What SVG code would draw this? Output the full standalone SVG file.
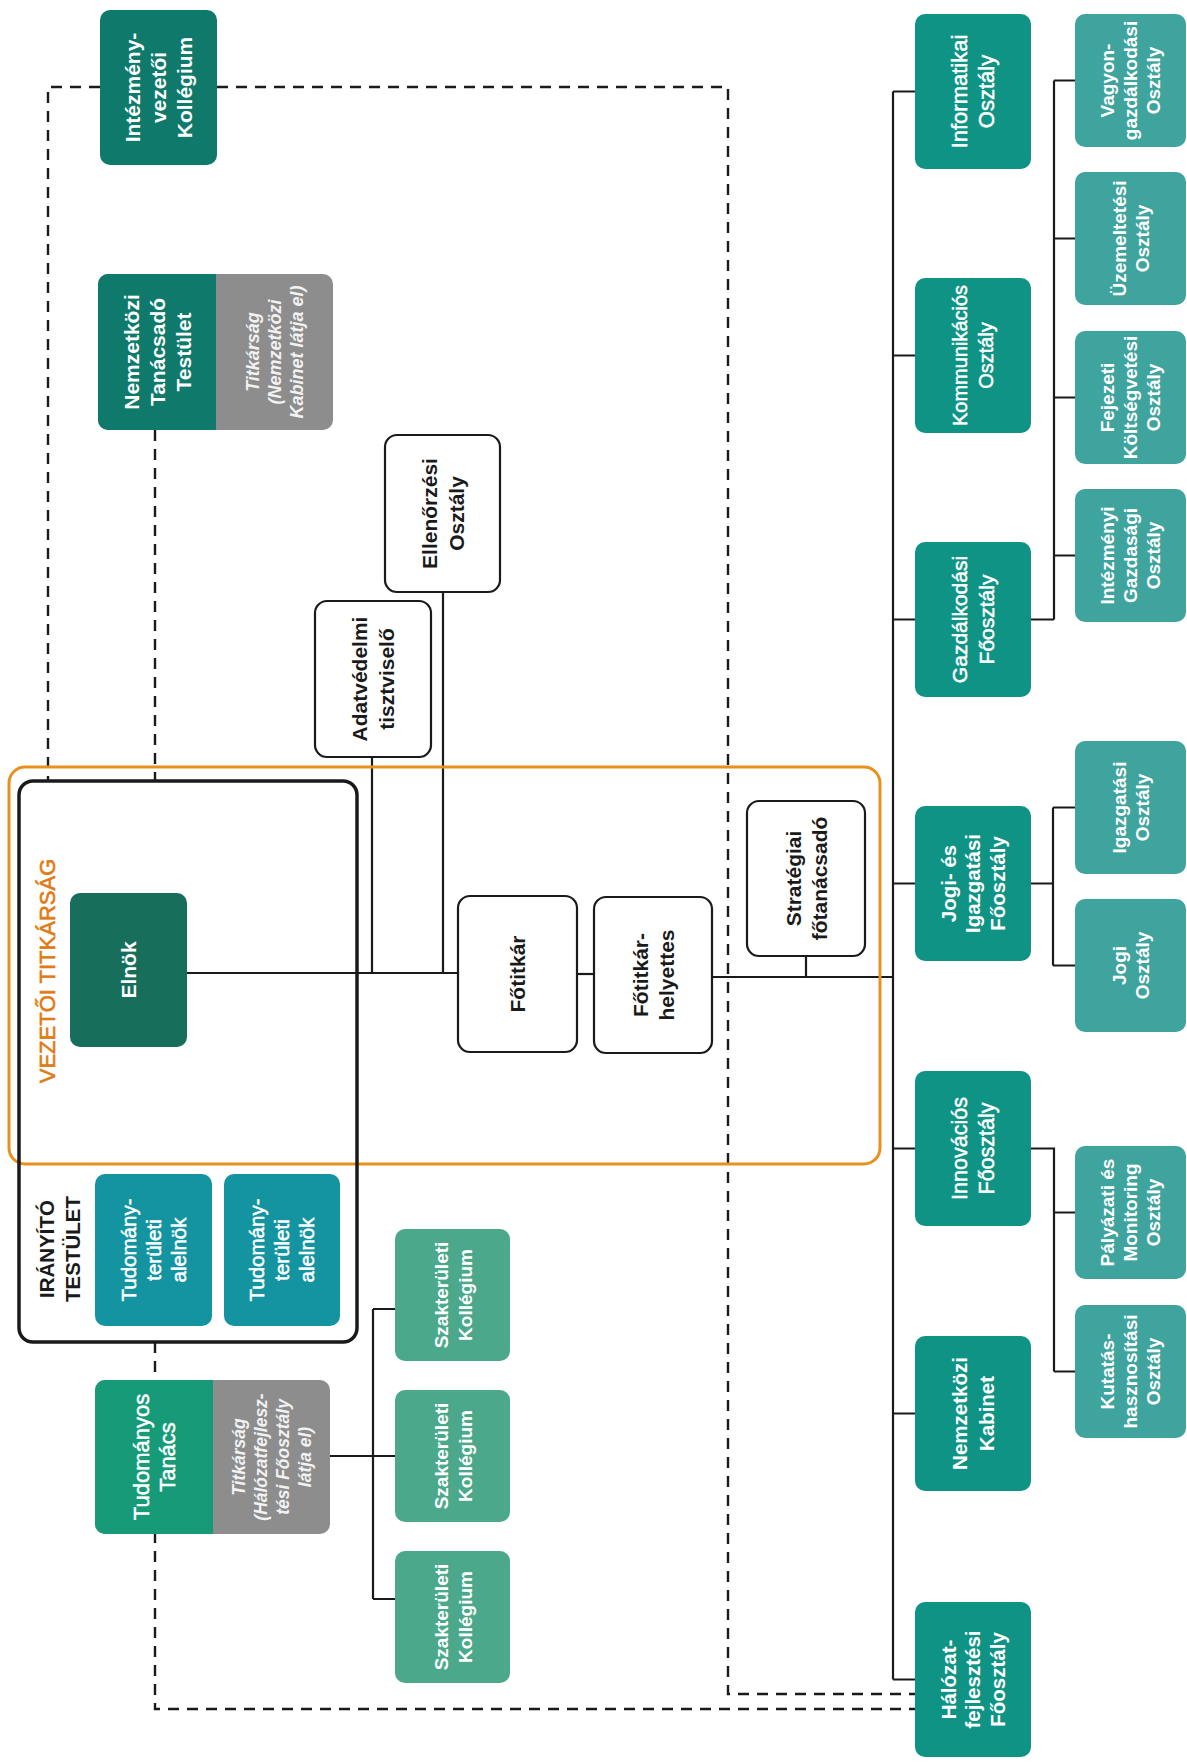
<svg xmlns="http://www.w3.org/2000/svg" width="1187" height="1763" viewBox="0 0 1187 1763">
<style>
text{font-family:"Liberation Sans",Arial,sans-serif;text-anchor:middle}
.w{fill:#ffffff}
.m{stroke:#ffffff;stroke-width:0.5}
.b{font-weight:bold}
.i{font-style:italic;font-weight:bold;fill:#f2f2f2}
.k{fill:#1a1a1a}
.line{fill:none;stroke:#1a1a1a;stroke-width:2.2}
.dash{fill:none;stroke:#1a1a1a;stroke-width:2.4;stroke-dasharray:11 8}
.wbox{fill:#ffffff;stroke:#1a1a1a;stroke-width:2.2}
.dt{fill:#0f7a6c}
.mt{fill:#0f9384}
.st{fill:#3fa39e}
.el{fill:#176e5a}
.al{fill:#1494a0}
.tt{fill:#169a78}
.sz{fill:#4ba88a}
.gr{fill:#8d8d8d}
</style>
<g id="connectors">
<path class="dash" d="M100 87 H48 V781"/>
<path class="dash" d="M217 87 H728 V1694 H915"/>
<path class="dash" d="M155 430 V781"/>
<path class="dash" d="M155 1342 V1709 H915"/>
<path class="line" d="M187 973 H458"/>
<path class="line" d="M372 757 V973"/>
<path class="line" d="M443 592 V973"/>
<path class="line" d="M577 974 H594"/>
<path class="line" d="M712 977 H893"/>
<path class="line" d="M806 956 V977"/>
<path class="line" d="M893 91.5 V1679.5"/>
<path class="line" d="M893 91.5 H915 M893 355.5 H915 M893 619.5 H915 M893 883.5 H915 M893 1148.5 H915 M893 1413.5 H915 M893 1679.5 H915"/>
<path class="line" d="M1031 619.5 H1054 M1054 80.5 V619.5 M1054 80.5 H1075 M1054 238.5 H1075 M1054 397.5 H1075 M1054 555.5 H1075"/>
<path class="line" d="M1031 883.5 H1053 M1053 807.5 V965.5 M1053 807.5 H1075 M1053 965.5 H1075"/>
<path class="line" d="M1031 1148.5 H1054 V1371.5 M1054 1212.5 H1075 M1054 1371.5 H1075"/>
<path class="line" d="M330 1456 H373 M373 1309 V1599 M373 1309 H395 M373 1456 H395 M373 1599 H395"/>
</g>
<g id="vezetoi-titkarsag">
<rect x="9" y="767" width="871" height="397" rx="16" fill="none" stroke="#e8901c" stroke-width="3"/>
<text transform="translate(47,971) rotate(-90)" y="8" font-size="22" fill="#e07a14" stroke="#e07a14" stroke-width="0.6">VEZETŐI TITKÁRSÁG</text>
</g>
<g id="iranyito-testulet">
<rect x="19" y="781" width="338" height="561" rx="14" fill="none" stroke="#1a1a1a" stroke-width="3.5"/>
<text class="k b" transform="translate(59.5,1249) rotate(-90)" font-size="20.5"><tspan x="0" y="-5.3">IRÁNYÍTÓ</tspan><tspan x="0" y="20">TESTÜLET</tspan></text>
</g>
<g id="intezmenyvezetoi-kollegium">
<rect class="dt" x="100" y="10" width="117" height="155" rx="10"/>
<text class="w b" transform="translate(158.5,87.5) rotate(-90)" font-size="21"><tspan x="0" y="-18.5">Intézmény-</tspan><tspan x="0" y="7.5">vezetői</tspan><tspan x="0" y="33.5">Kollégium</tspan></text>
</g>
<g id="nemzetkozi-tanacsado-testulet">
<rect class="gr" x="98" y="274" width="235" height="156" rx="10"/>
<rect class="dt" x="98" y="274" width="118" height="156" rx="10"/>
<rect class="dt" x="196" y="274" width="20" height="156"/>
<text class="w b" transform="translate(157,352) rotate(-90)" font-size="21"><tspan x="0" y="-18.5">Nemzetközi</tspan><tspan x="0" y="7.5">Tanácsadó</tspan><tspan x="0" y="33.5">Testület</tspan></text>
<text class="i" transform="translate(274.5,352) rotate(-90)" font-size="18"><tspan x="0" y="-15.5">Titkárság</tspan><tspan x="0" y="6.5">(Nemzetközi</tspan><tspan x="0" y="28.5">Kabinet látja el)</tspan></text>
</g>
<g id="ellenorzesi-osztaly">
<rect class="wbox" x="385" y="435" width="115" height="157" rx="12"/>
<text class="k b" transform="translate(442.5,513.5) rotate(-90)" font-size="21"><tspan x="0" y="-6">Ellenőrzési</tspan><tspan x="0" y="21">Osztály</tspan></text>
</g>
<g id="adatvedelmi-tisztviselo">
<rect class="wbox" x="315" y="601" width="116" height="156" rx="12"/>
<text class="k b" transform="translate(373,679) rotate(-90)" font-size="21"><tspan x="0" y="-6">Adatvédelmi</tspan><tspan x="0" y="21">tisztviselő</tspan></text>
</g>
<g id="elnok">
<rect class="el" x="70" y="893" width="117" height="154" rx="10"/>
<text class="w b" transform="translate(128.5,970) rotate(-90)" font-size="21" y="7.5">Elnök</text>
</g>
<g id="fotitkar">
<rect class="wbox" x="458" y="896" width="119" height="156" rx="12"/>
<text class="k b" transform="translate(517.5,974) rotate(-90)" font-size="21" y="7.5">Főtitkár</text>
</g>
<g id="fotitkar-helyettes">
<rect class="wbox" x="594" y="897" width="118" height="156" rx="12"/>
<text class="k b" transform="translate(653,975) rotate(-90)" font-size="21"><tspan x="0" y="-5.5">Főtitkár-</tspan><tspan x="0" y="20.5">helyettes</tspan></text>
</g>
<g id="strategiai-fotanacsado">
<rect class="wbox" x="747" y="801" width="118" height="155" rx="12"/>
<text class="k b" transform="translate(806,878.5) rotate(-90)" font-size="21"><tspan x="0" y="-5.5">Stratégiai</tspan><tspan x="0" y="20.5">főtanácsadó</tspan></text>
</g>
<g id="alelnok-1">
<rect class="al" x="95" y="1174" width="117" height="152" rx="10"/>
<text class="w m" transform="translate(153.5,1250) rotate(-90)" font-size="20.5"><tspan x="0" y="-17.6">Tudomány-</tspan><tspan x="0" y="7.4">területi</tspan><tspan x="0" y="32.4">alelnök</tspan></text>
</g>
<g id="alelnok-2">
<rect class="al" x="224" y="1174" width="116" height="152" rx="10"/>
<text class="w m" transform="translate(282,1250) rotate(-90)" font-size="20.5"><tspan x="0" y="-17.6">Tudomány-</tspan><tspan x="0" y="7.4">területi</tspan><tspan x="0" y="32.4">alelnök</tspan></text>
</g>
<g id="tudomanyos-tanacs">
<rect class="gr" x="95" y="1380" width="235" height="154" rx="10"/>
<rect class="tt" x="95" y="1380" width="118" height="154" rx="10"/>
<rect class="tt" x="193" y="1380" width="20" height="154"/>
<text class="w m" transform="translate(154,1457) rotate(-90)" font-size="22"><tspan x="0" y="-5.5">Tudományos</tspan><tspan x="0" y="21">Tanács</tspan></text>
<text class="i" transform="translate(271.5,1457) rotate(-90)" font-size="17.5"><tspan x="0" y="-26.7">Titkárság</tspan><tspan x="0" y="-4.7">(Hálózatfejlesz-</tspan><tspan x="0" y="17.3">tési Főosztály</tspan><tspan x="0" y="39.3">látja el)</tspan></text>
</g>
<g id="szakteruleti-kollegium-1">
<rect class="sz" x="395" y="1229" width="115" height="132" rx="10"/>
<text class="w b" transform="translate(452.5,1295) rotate(-90)" font-size="19"><tspan x="0" y="-5">Szakterületi</tspan><tspan x="0" y="19">Kollégium</tspan></text>
</g>
<g id="szakteruleti-kollegium-2">
<rect class="sz" x="395" y="1390" width="115" height="132" rx="10"/>
<text class="w b" transform="translate(452.5,1456) rotate(-90)" font-size="19"><tspan x="0" y="-5">Szakterületi</tspan><tspan x="0" y="19">Kollégium</tspan></text>
</g>
<g id="szakteruleti-kollegium-3">
<rect class="sz" x="395" y="1551" width="115" height="132" rx="10"/>
<text class="w b" transform="translate(452.5,1617) rotate(-90)" font-size="19"><tspan x="0" y="-5">Szakterületi</tspan><tspan x="0" y="19">Kollégium</tspan></text>
</g>
<g id="informatikai-osztaly">
<rect class="mt" x="915" y="14" width="116" height="155" rx="10"/>
<text class="w m" transform="translate(973,91.5) rotate(-90)" font-size="22"><tspan x="0" y="-5.8">Informatikai</tspan><tspan x="0" y="21.2">Osztály</tspan></text>
</g>
<g id="kommunikacios-osztaly">
<rect class="mt" x="915" y="278" width="116" height="155" rx="10"/>
<text class="w m" transform="translate(973,355.5) rotate(-90)" font-size="20"><tspan x="0" y="-5.8">Kommunikációs</tspan><tspan x="0" y="20.2">Osztály</tspan></text>
</g>
<g id="gazdalkodasi-foosztaly">
<rect class="mt" x="915" y="542" width="116" height="155" rx="10"/>
<text class="w m" transform="translate(973,619.5) rotate(-90)" font-size="21"><tspan x="0" y="-5.8">Gazdálkodási</tspan><tspan x="0" y="20.7">Főosztály</tspan></text>
</g>
<g id="jogi-es-igazgatasi-foosztaly">
<rect class="mt" x="915" y="806" width="116" height="155" rx="10"/>
<text class="w b" transform="translate(973,883.5) rotate(-90)" font-size="20.5"><tspan x="0" y="-16.8">Jogi- és</tspan><tspan x="0" y="7.4">Igazgatási</tspan><tspan x="0" y="31.6">Főosztály</tspan></text>
</g>
<g id="innovacios-foosztaly">
<rect class="mt" x="915" y="1071" width="116" height="155" rx="10"/>
<text class="w m" transform="translate(973,1148.5) rotate(-90)" font-size="21.5"><tspan x="0" y="-5.8">Innovációs</tspan><tspan x="0" y="21">Főosztály</tspan></text>
</g>
<g id="nemzetkozi-kabinet">
<rect class="mt" x="915" y="1336" width="116" height="155" rx="10"/>
<text class="w b" transform="translate(973,1413.5) rotate(-90)" font-size="20.5"><tspan x="0" y="-5.8">Nemzetközi</tspan><tspan x="0" y="20.5">Kabinet</tspan></text>
</g>
<g id="halozatfejlesztesi-foosztaly">
<rect class="mt" x="915" y="1602" width="116" height="155" rx="10"/>
<text class="w b" transform="translate(973,1679.5) rotate(-90)" font-size="20.5"><tspan x="0" y="-16.8">Hálózat-</tspan><tspan x="0" y="7.4">fejlesztési</tspan><tspan x="0" y="31.6">Főosztály</tspan></text>
</g>
<g id="vagyongazdalkodasi-osztaly">
<rect class="st" x="1075" y="14" width="111" height="133" rx="10"/>
<text class="w b" transform="translate(1130.5,80.5) rotate(-90)" font-size="19"><tspan x="0" y="-16.2">Vagyon-</tspan><tspan x="0" y="6.8">gazdálkodási</tspan><tspan x="0" y="29.8">Osztály</tspan></text>
</g>
<g id="uzemeltetesi-osztaly">
<rect class="st" x="1075" y="172" width="111" height="133" rx="10"/>
<text class="w b" transform="translate(1130.5,238.5) rotate(-90)" font-size="19"><tspan x="0" y="-4.7">Üzemeltetési</tspan><tspan x="0" y="18.3">Osztály</tspan></text>
</g>
<g id="fejezeti-koltsegvetesi-osztaly">
<rect class="st" x="1075" y="331" width="111" height="133" rx="10"/>
<text class="w b" transform="translate(1130.5,397.5) rotate(-90)" font-size="19"><tspan x="0" y="-16.2">Fejezeti</tspan><tspan x="0" y="6.8">Költségvetési</tspan><tspan x="0" y="29.8">Osztály</tspan></text>
</g>
<g id="intezmenyi-gazdasagi-osztaly">
<rect class="st" x="1075" y="489" width="111" height="133" rx="10"/>
<text class="w b" transform="translate(1130.5,555.5) rotate(-90)" font-size="19"><tspan x="0" y="-16.2">Intézményi</tspan><tspan x="0" y="6.8">Gazdasági</tspan><tspan x="0" y="29.8">Osztály</tspan></text>
</g>
<g id="igazgatasi-osztaly">
<rect class="st" x="1075" y="741" width="111" height="133" rx="10"/>
<text class="w b" transform="translate(1130.5,807.5) rotate(-90)" font-size="19"><tspan x="0" y="-4.7">Igazgatási</tspan><tspan x="0" y="18.3">Osztály</tspan></text>
</g>
<g id="jogi-osztaly">
<rect class="st" x="1075" y="899" width="111" height="133" rx="10"/>
<text class="w b" transform="translate(1130.5,965.5) rotate(-90)" font-size="19"><tspan x="0" y="-4.7">Jogi</tspan><tspan x="0" y="18.3">Osztály</tspan></text>
</g>
<g id="palyazati-es-monitoring-osztaly">
<rect class="st" x="1075" y="1146" width="111" height="133" rx="10"/>
<text class="w b" transform="translate(1130.5,1212.5) rotate(-90)" font-size="19"><tspan x="0" y="-16.2">Pályázati és</tspan><tspan x="0" y="6.8">Monitoring</tspan><tspan x="0" y="29.8">Osztály</tspan></text>
</g>
<g id="kutatashasznositasi-osztaly">
<rect class="st" x="1075" y="1305" width="111" height="133" rx="10"/>
<text class="w b" transform="translate(1130.5,1371.5) rotate(-90)" font-size="19"><tspan x="0" y="-16.2">Kutatás-</tspan><tspan x="0" y="6.8">hasznosítási</tspan><tspan x="0" y="29.8">Osztály</tspan></text>
</g>
</svg>
